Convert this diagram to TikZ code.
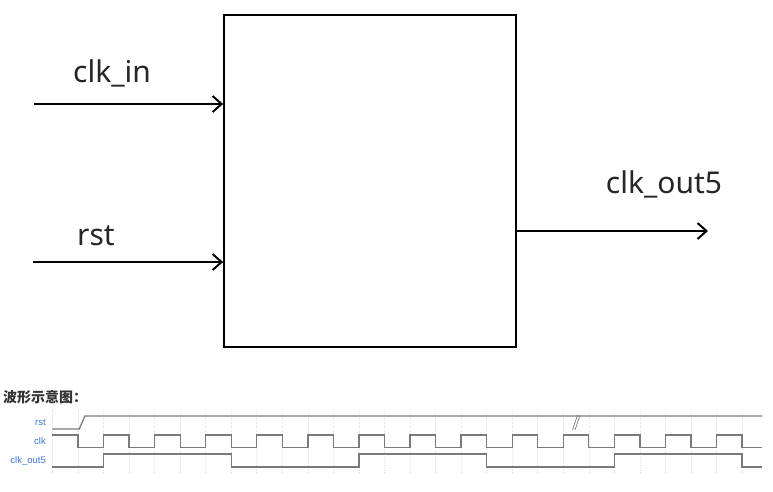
\documentclass[tikz,border=0pt]{standalone}
\usepackage{fontspec}
\setmainfont{Noto Sans}
\newfontfamily\cjkfont{Noto Sans CJK SC}
\newfontfamily\wavefont{Liberation Sans}
\usetikzlibrary{arrows.meta}
\definecolor{wavegray}{HTML}{7A7A7A}
\definecolor{gridgray}{HTML}{D9D9D9}
\definecolor{sigblue}{HTML}{3F73D9}

\begin{document}
\begin{tikzpicture}[x=1pt, y=-1pt,
  port/.style={line width=2pt, -{Straight Barb[length=9pt,width=16pt,line width=2pt]}},
  portlabel/.style={anchor=base, inner sep=0pt, font=\fontsize{30}{32}\selectfont, text=black!85},
  wave/.style={wavegray, line width=1.3pt},
  gridline/.style={gridgray, dotted, line width=0.6pt},
  signame/.style={anchor=east, inner sep=0pt, text=sigblue, font=\wavefont\fontsize{9.5}{10}\selectfont}]

\fill[white] (0,0) rectangle (773,491);
\useasboundingbox (0,0) rectangle (773,491);

% the block
\node[draw, line width=1.8pt, minimum width=292pt, minimum height=332pt, inner sep=0pt] (dut) at (370,181) {};

% ports
\coordinate (clkin) at (34,104);
\coordinate (rstin) at (33,262);
\coordinate (clkout) at (708,231);
\draw[port] (clkin) -- (clkin -| dut.west);
\draw[port] (rstin) -- (rstin -| dut.west);
\draw[port] (clkout -| dut.east) -- (clkout);
\node[portlabel] (lclkin) at (112,82) {clk\_in};
\node[portlabel] (lrst) at (96,245) {rst};
\node[portlabel] (lclkout) at (664,193) {clk\_out5};

% waveform
\node[anchor=west, inner sep=0pt, font=\cjkfont\bfseries\fontsize{14}{16}\selectfont, text=black!80] (title) at (3,397) {波形示意图：};
\node[signame] (nrst) at (46,422.5) {rst};
\node[signame] (nclk) at (46,441) {clk};
\node[signame] (nout) at (46,460.5) {clk\_out5};

\begin{scope}[xshift=52.46pt, x=25.54pt]
\foreach \k in {0,...,27}
  \draw[gridline] (\k,410) -- (\k,473);
\draw[wave] (0,429) -- (1.05,429) -- (1.27,416) -- (27.8,416);
\draw[wavegray, line width=0.7pt] (20.36,430) -- (20.56,415);
\draw[wavegray, line width=0.7pt] (20.46,430) -- (20.66,415);
\draw[wave] (0,435) \foreach \k in {1,3,...,25} { -- (\k,435) -- (\k,447.5) -- (\k+1,447.5) -- (\k+1,435) } -- (27,435) -- (27,447.5) -- (27.8,447.5);
\draw[wave] (0,467) -- (2,467) -- (2,454) -- (7,454) -- (7,467) -- (12,467) -- (12,454) -- (17,454) -- (17,467) -- (22,467) -- (22,454) -- (27,454) -- (27,467) -- (27.8,467);
\end{scope}

\end{tikzpicture}
\end{document}
